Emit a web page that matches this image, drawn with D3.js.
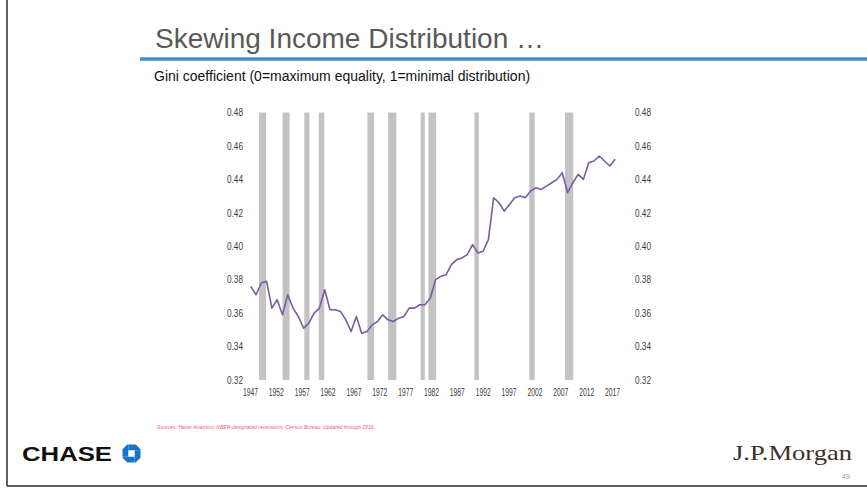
<!DOCTYPE html>
<html>
<head>
	<meta charset="utf-8">
	<script type="text/javascript" src="https://cdn.jsdelivr.net/npm/d3@7/dist/d3.min.js"></script>
	<title>Skewing Income Distribution</title>
	<style type="text/css">
		body { margin: 0; background: #fff; }
		svg { display: block; }
	</style>
</head>
<body>

	<script>
		// gini ratio, census bureau, annual
		var years = [1947, 1948, 1949, 1950, 1951, 1952, 1953, 1954, 1955, 1956,
			1957, 1958, 1959, 1960, 1961, 1962, 1963, 1964, 1965, 1966,
			1967, 1968, 1969, 1970, 1971, 1972, 1973, 1974, 1975, 1976,
			1977, 1978, 1979, 1980, 1981, 1982, 1983, 1984, 1985, 1986,
			1987, 1988, 1989, 1990, 1991, 1992, 1993, 1994, 1995, 1996,
			1997, 1998, 1999, 2000, 2001, 2002, 2003, 2004, 2005, 2006,
			2007, 2008, 2009, 2010, 2011, 2012, 2013, 2014, 2015, 2016];
		var gini = [0.376, 0.371, 0.378, 0.379, 0.363, 0.368, 0.359, 0.371, 0.363, 0.358,
			0.351, 0.354, 0.360, 0.363, 0.374, 0.362, 0.362, 0.361, 0.356, 0.349,
			0.358, 0.348, 0.349, 0.353, 0.355, 0.359, 0.356, 0.355, 0.357, 0.358,
			0.363, 0.363, 0.365, 0.365, 0.369, 0.380, 0.382, 0.383, 0.389, 0.392,
			0.393, 0.395, 0.401, 0.396, 0.397, 0.404, 0.429, 0.426, 0.421, 0.425,
			0.429, 0.430, 0.429, 0.433, 0.435, 0.434, 0.436, 0.438, 0.440, 0.444,
			0.432, 0.438, 0.443, 0.440, 0.450, 0.451, 0.454, 0.451, 0.448, 0.452];

		// NBER recessions (fractional years, as drawn)
		var recessionStart = [1948.75, 1953.3, 1957.5, 1960.3, 1969.7, 1973.7, 1980.0, 1981.5, 1990.4, 2001.0, 2007.9];
		var recessionEnd   = [1950.1, 1954.65, 1958.5, 1961.35, 1971.0, 1975.3, 1980.8, 1983.0, 1991.25, 2002.05, 2009.5];

		var yearTicks = [1947, 1952, 1957, 1962, 1967, 1972, 1977, 1982, 1987, 1992, 1997, 2002, 2007, 2012, 2017];
		var giniTicks = [0.32, 0.34, 0.36, 0.38, 0.40, 0.42, 0.44, 0.46, 0.48];

		var titleText = 'Skewing Income Distribution \u2026';
		var subtitleText = 'Gini coefficient (0=maximum equality, 1=minimal distribution)';
		var sourceText = 'Sources: Haver Analytics; NBER-designated recessions; Census Bureau. Updated through 2016.';

		var svgWidth = 867;
		var svgHeight = 488;
		var plotLeft = 250;
		var plotRight = 612;
		var plotTop = 112.5;
		var plotBottom = 380;
		var tickFont = '"Liberation Sans Narrow", "Liberation Sans", Arial, sans-serif';

		var svg = d3.select('body')
				.append('svg')
				.attr('width', svgWidth)
				.attr('height', svgHeight);

		// date axis
		var xScale = d3.scaleLinear()
				.domain([1947, 2017])
				.range([plotLeft, plotRight]);

		// the annual series sits a little stretched against the date axis in the original
		var xLine = d3.scaleLinear()
				.domain([years[0], years[years.length - 1]])
				.range([xScale(1947.15), xScale(2017.6)]);

		var yScale = d3.scaleLinear()
				.domain([0.32, 0.48])
				.range([plotBottom, plotTop]);

		// slide frame
		svg.append('line')
			.attr('x1', 7).attr('y1', 0).attr('x2', 7).attr('y2', 486)
			.attr('stroke', '#2b2b2b').attr('stroke-width', 1.5);
		svg.append('line')
			.attr('x1', 7).attr('y1', 486).attr('x2', svgWidth).attr('y2', 486)
			.attr('stroke', '#2b2b2b').attr('stroke-width', 1.5);

		// header
		svg.append('text')
			.attr('x', 155)
			.attr('y', 48)
			.attr('font-family', '"Liberation Sans", Arial, sans-serif')
			.attr('font-size', 28)
			.attr('fill', '#595959')
			.text(titleText);

		svg.append('line')
			.attr('x1', 140).attr('y1', 59).attr('x2', svgWidth).attr('y2', 59)
			.attr('stroke', '#3f8fca').attr('stroke-width', 3.5);

		svg.append('text')
			.attr('x', 154)
			.attr('y', 81)
			.attr('font-family', '"Liberation Sans", Arial, sans-serif')
			.attr('font-size', 14)
			.attr('fill', '#111')
			.text(subtitleText);

		// recession shading
		var bars = recessionStart.map(function(d, i) { return { start: d, end: recessionEnd[i] }; });

		svg.append('g')
			.selectAll('rect')
			.data(bars)
			.enter()
			.append('rect')
				.attr('x', function(d) { return xScale(d.start); })
				.attr('y', yScale(0.48))
				.attr('width', function(d) { return xScale(d.end) - xScale(d.start); })
				.attr('height', yScale(0.32) - yScale(0.48))
				.attr('fill', '#c3c3c3');

		// axes
		function styleTicks(g, len, size) {
			g.select('.domain').remove();
			g.selectAll('text')
				.attr('font-family', tickFont)
				.attr('font-size', size)
				.attr('fill', '#3a3a3a')
				.attr('textLength', len)
				.attr('lengthAdjust', 'spacingAndGlyphs');
		}

		svg.append('g')
			.attr('transform', 'translate(246,0)')
			.call(d3.axisLeft(yScale).tickValues(giniTicks).tickFormat(d3.format('.2f')).tickSize(0).tickPadding(3))
			.call(styleTicks, 16, 10);

		svg.append('g')
			.attr('transform', 'translate(632,0)')
			.call(d3.axisRight(yScale).tickValues(giniTicks).tickFormat(d3.format('.2f')).tickSize(0).tickPadding(3))
			.call(styleTicks, 16, 10);

		svg.append('g')
			.attr('transform', 'translate(0,' + (plotBottom + 3) + ')')
			.call(d3.axisBottom(xScale).tickValues(yearTicks).tickFormat(d3.format('d')).tickSize(0).tickPadding(5))
			.call(styleTicks, 15, 11);

		// gini line
		var series = years.map(function(d, i) { return { year: d, value: gini[i] }; });

		var line = d3.line()
			.x(function(d) { return xLine(d.year); })
			.y(function(d) { return yScale(d.value); });

		svg.append('path')
			.datum(series)
			.attr('d', line)
			.attr('fill', 'none')
			.attr('stroke', '#7a5ba6')
			.attr('stroke-width', 1.6)
			.attr('stroke-linejoin', 'round');

		// source note
		svg.append('text')
			.attr('x', 157)
			.attr('y', 429)
			.attr('font-family', '"Liberation Sans", Arial, sans-serif')
			.attr('font-size', 5.5)
			.attr('font-style', 'italic')
			.attr('fill', '#e8607a')
			.attr('textLength', 218)
			.attr('lengthAdjust', 'spacingAndGlyphs')
			.text(sourceText);

		// footer logos
		svg.append('text')
			.attr('x', 22)
			.attr('y', 461)
			.attr('font-family', '"Liberation Sans", Arial, sans-serif')
			.attr('font-weight', 'bold')
			.attr('font-size', 20.5)
			.attr('fill', '#111')
			.attr('textLength', 90)
			.attr('lengthAdjust', 'spacingAndGlyphs')
			.text('CHASE');

		// chase octagon, four rotated pieces round a white square
		var octo = svg.append('g').attr('transform', 'translate(131.5,453.5)');
		var piece = 'M-3.2,-9 L4.2,-9 L9,-4.2 L9,-3.2 L3.2,-3.2 L3.2,-3.2 L-3.2,-3.2 Z';
		[0, 90, 180, 270].forEach(function(a) {
			octo.append('path')
				.attr('d', piece)
				.attr('transform', 'rotate(' + a + ')')
				.attr('fill', '#1a73c4');
		});

		svg.append('text')
			.attr('x', 733)
			.attr('y', 460)
			.attr('font-family', '"Liberation Serif", "Times New Roman", serif')
			.attr('font-size', 21)
			.attr('fill', '#3b302b')
			.attr('textLength', 119)
			.attr('lengthAdjust', 'spacingAndGlyphs')
			.text('J.P.Morgan');

		svg.append('text')
			.attr('x', 850)
			.attr('y', 479)
			.attr('text-anchor', 'end')
			.attr('font-family', '"Liberation Sans", Arial, sans-serif')
			.attr('font-size', 7.5)
			.attr('fill', '#9a9a9a')
			.text('49');

	</script>

</body>
</html>
